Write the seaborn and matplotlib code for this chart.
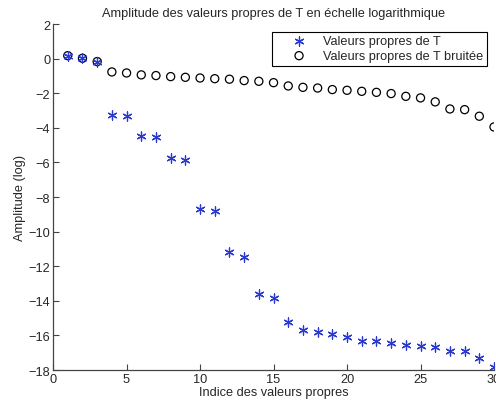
import numpy as np
import pandas as pd
import seaborn as sns
import matplotlib
matplotlib.use("Agg")
import matplotlib.pyplot as plt

# values (log amplitude)
indices = list(range(1, 31))
vp_T = [0.17, 0.02, -0.17, -3.27, -3.33, -4.47, -4.52, -5.74, -5.84, -8.67,
        -8.79, -11.19, -11.46, -13.6, -13.83, -15.24, -15.68, -15.78, -15.92, -16.09,
        -16.34, -16.34, -16.44, -16.57, -16.59, -16.69, -16.92, -16.92, -17.3, -17.82]
vp_T_bruitee = [0.17, 0.02, -0.17, -0.77, -0.83, -0.94, -0.98, -1.04, -1.08, -1.12,
                -1.16, -1.19, -1.27, -1.31, -1.39, -1.58, -1.66, -1.70, -1.79, -1.83,
                -1.89, -1.95, -2.02, -2.18, -2.27, -2.50, -2.91, -2.95, -3.33, -3.95]
labels = ["Valeurs propres de T", "Valeurs propres de T bruitée"]

df = pd.DataFrame({
    "indice": indices * 2,
    "amplitude": vp_T + vp_T_bruitee,
    "serie": [labels[0]] * 30 + [labels[1]] * 30,
})

sns.set_style("white")
plt.rcParams['font.family'] = ['Liberation Sans', 'DejaVu Sans']
plt.rcParams['axes.unicode_minus'] = True
fs = 9.2

fig = plt.figure(figsize=(4.96, 4.10), dpi=100)
ax = fig.add_axes([0.107, 0.095, 0.889, 0.844])

# noisy eigenvalues first (open circles), then the clean ones on top (blue asterisks)
sns.scatterplot(data=df[df.serie == labels[1]], x="indice", y="amplitude", ax=ax,
                marker="o", s=34, facecolor="none", edgecolor="black", linewidth=0.9,
                label=labels[1], legend=False)
sns.scatterplot(data=df[df.serie == labels[0]], x="indice", y="amplitude", ax=ax,
                marker=(6, 2, 0), s=42, color="#2a3ad0", linewidth=0.9,
                label=labels[0], legend=False)

ax.set_xlim(0, 30)
ax.set_ylim(-18, 2)
ax.set_xticks(np.arange(0, 31, 5))
ax.set_yticks(np.arange(-18, 3, 2))
ax.tick_params(direction="in", length=4, width=0.8, color="#444444",
               labelsize=fs, left=True, bottom=True, pad=2)
for side in ["top", "right"]:
    ax.spines[side].set_visible(False)
for side in ["left", "bottom"]:
    ax.spines[side].set_color("#444444")
    ax.spines[side].set_linewidth(0.9)

ax.set_xlabel("Indice des valeurs propres", fontsize=fs, labelpad=1)
ax.set_ylabel("Amplitude (log)", fontsize=fs, labelpad=2)
ax.set_title("Amplitude des valeurs propres de T en échelle logarithmique", fontsize=fs, pad=6)

handles, lbls = ax.get_legend_handles_labels()
order = [lbls.index(labels[0]), lbls.index(labels[1])]
leg = ax.legend([handles[i] for i in order], [lbls[i] for i in order],
                loc="upper right", bbox_to_anchor=(0.985, 0.978), fontsize=fs,
                frameon=True, fancybox=False, edgecolor="black", framealpha=1,
                borderpad=0.3, handlelength=3.6, handletextpad=0.1,
                labelspacing=0.2, borderaxespad=0)
leg.get_frame().set_linewidth(0.8)

fig.savefig("out.png", dpi=100)
